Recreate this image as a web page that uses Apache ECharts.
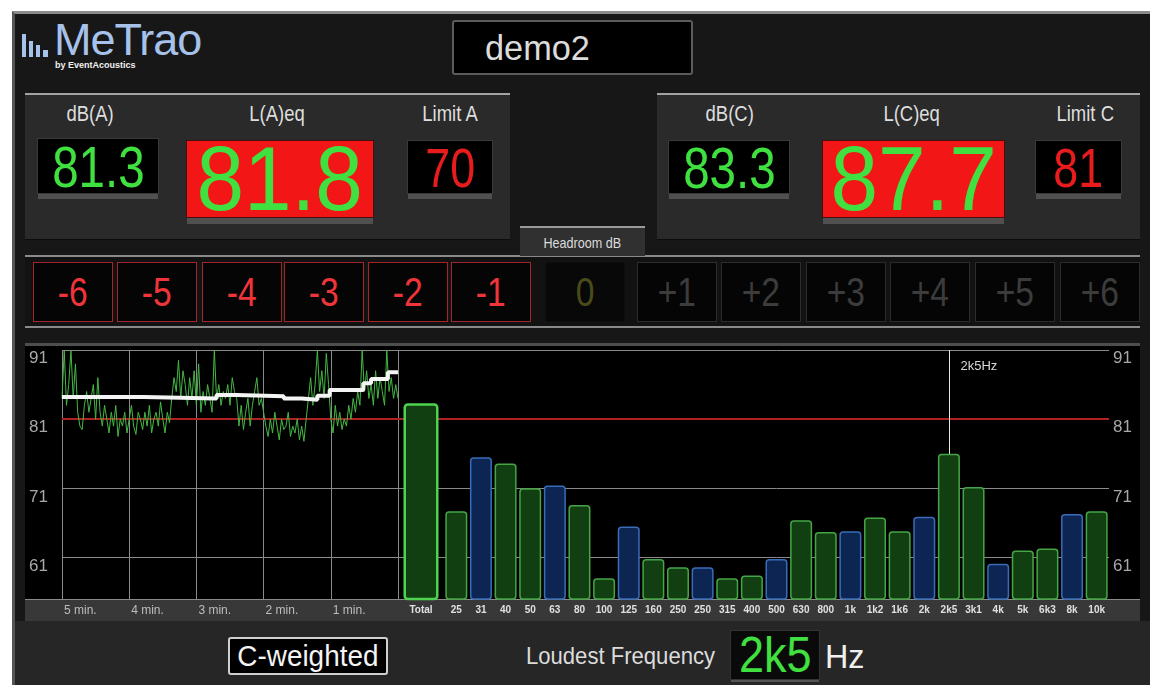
<!DOCTYPE html>
<html>
<head>
<meta charset="utf-8">
<title>MeTrao - demo2</title>
<script src="https://cdn.jsdelivr.net/npm/echarts@6.0.0/dist/echarts.min.js"></script>
<style>
  html, body { margin: 0; padding: 0; background: #fff; }
  body { position: relative; width: 1150px; height: 685px; overflow: hidden;
         font-family: "Liberation Sans", Arial, sans-serif; }
  .a { position: absolute; box-sizing: border-box; }
  .c { display: flex; align-items: center; justify-content: center; }
  .sq { display: inline-block; transform: scaleX(0.84); white-space: nowrap; }
  #frame { left: 12px; top: 11px; width: 1138px; height: 674px; background: #171717;
           border-top: 3px solid #8c8c8c; border-left: 3px solid #555; }
  .panel { background: #2a2a2a; border-top: 2px solid #a3a3a3; border-bottom: 1px solid #0c0c0c; }
  .lbl { top: 101px; width: 120px; height: 26px; font-size: 22px; color: #dedede; }
  .box { background: #000; border: 1px solid #3a3a3a; box-shadow: 0 6px 0 -1px #505050; }
  .red { background: #f21616; border: 1px solid #4a0d0d; box-shadow: 0 7px 0 -1px #505050; }
  .g { color: #3fe03f; }
  .r { color: #e81c1c; }
  .hb { top: 262px; width: 80px; height: 60px; border: 1px solid #a3252a; background: #050505;
        font-size: 40px; color: #f0353a; }
  .hb.off { border-color: #2c2c2c; color: #3c3c3c; }
  .hb.zero { border-color: #0e0e0e; color: #4a4a1c; background: #080808; }
  .bar { background: #a6c2ea; width: 4px; bottom: 0; }
</style>
</head>
<body>
<div id="frame" class="a"></div>

<!-- logo -->
<div class="a" style="left:22px;top:31px;width:30px;height:26px;">
  <div class="a bar" style="left:0;height:23px;"></div>
  <div class="a bar" style="left:7px;height:16px;"></div>
  <div class="a bar" style="left:14px;height:12px;"></div>
  <div class="a bar" style="left:21px;height:7px;width:5px;"></div>
</div>
<div class="a" style="left:54px;top:14px;font-size:45px;color:#a6c2ea;letter-spacing:-1px;">MeTrao</div>
<div class="a" style="left:55px;top:60px;font-size:9px;font-weight:bold;color:#f0f0f0;">by EventAcoustics</div>

<!-- session name -->
<div class="a" style="left:452px;top:20px;width:241px;height:55px;background:#000;border:2px solid #5c5c5c;border-radius:3px;">
  <div class="a" style="left:31px;top:6px;font-size:35px;color:#dcdcdc;"><span class="sq" style="transform:scaleX(0.98);transform-origin:left;">demo2</span></div>
</div>

<!-- A-weighted meters -->
<div class="a panel" style="left:25px;top:93px;width:485px;height:147px;"></div>
<div class="a lbl c" style="left:30px;"><span class="sq">dB(A)</span></div>
<div class="a lbl c" style="left:217px;"><span class="sq">L(A)eq</span></div>
<div class="a lbl c" style="left:390px;"><span class="sq">Limit A</span></div>
<div class="a box c g" style="left:37px;top:138px;width:122px;height:56px;font-size:58px;"><span class="sq" style="transform:scaleX(0.82)">81.3</span></div>
<div class="a red c g" style="left:186px;top:140px;width:188px;height:78px;font-size:90px;"><span class="sq" style="transform:scaleX(0.95)">81.8</span></div>
<div class="a box c r" style="left:407px;top:140px;width:86px;height:54px;font-size:56px;"><span class="sq" style="transform:scaleX(0.8)">70</span></div>

<!-- C-weighted meters -->
<div class="a panel" style="left:657px;top:93px;width:483px;height:147px;"></div>
<div class="a lbl c" style="left:670px;"><span class="sq">dB(C)</span></div>
<div class="a lbl c" style="left:852px;"><span class="sq">L(C)eq</span></div>
<div class="a lbl c" style="left:1025px;"><span class="sq">Limit C</span></div>
<div class="a box c g" style="left:668px;top:140px;width:122px;height:54px;font-size:58px;"><span class="sq" style="transform:scaleX(0.82)">83.3</span></div>
<div class="a red c g" style="left:822px;top:140px;width:183px;height:78px;font-size:90px;"><span class="sq" style="transform:scaleX(0.95)">87.7</span></div>
<div class="a box c r" style="left:1035px;top:140px;width:87px;height:54px;font-size:56px;"><span class="sq" style="transform:scaleX(0.8)">81</span></div>

<!-- headroom -->
<div class="a" style="left:25px;top:255px;width:1115px;height:73px;background:#121212;border-top:2px solid #8a8a8a;border-bottom:2px solid #8a8a8a;"></div>
<div class="a c" style="left:520px;top:226px;width:125px;height:30px;background:#303030;border-top:2px solid #9a9a9a;font-size:15px;color:#dcdcdc;"><span class="sq">Headroom dB</span></div>
<div class="a hb c" style="left:33px;"><span class="sq">-6</span></div>
<div class="a hb c" style="left:117px;"><span class="sq">-5</span></div>
<div class="a hb c" style="left:202px;"><span class="sq">-4</span></div>
<div class="a hb c" style="left:284px;"><span class="sq">-3</span></div>
<div class="a hb c" style="left:368px;"><span class="sq">-2</span></div>
<div class="a hb c" style="left:451px;"><span class="sq">-1</span></div>
<div class="a hb zero c" style="left:545px;"><span class="sq">0</span></div>
<div class="a hb off c" style="left:637px;"><span class="sq">+1</span></div>
<div class="a hb off c" style="left:721px;"><span class="sq">+2</span></div>
<div class="a hb off c" style="left:806px;"><span class="sq">+3</span></div>
<div class="a hb off c" style="left:890px;"><span class="sq">+4</span></div>
<div class="a hb off c" style="left:975px;"><span class="sq">+5</span></div>
<div class="a hb off c" style="left:1060px;"><span class="sq">+6</span></div>

<!-- chart panel -->
<div class="a" style="left:25px;top:343px;width:1115px;height:278px;background:#000;border-top:3px solid #4e4e4e;"></div>
<div class="a" style="left:25px;top:599px;width:1115px;height:22px;background:#383838;border-top:1px solid #8a8a8a;"></div>
<div id="chart" class="a" style="left:25px;top:343px;width:1115px;height:278px;"></div>

<!-- footer -->
<div class="a" style="left:15px;top:621px;width:1135px;height:64px;background:#262626;"></div>
<div class="a c" style="left:228px;top:637px;width:160px;height:38px;background:#000;border:2px solid #cfcfcf;border-radius:3px;font-size:30px;color:#f4f4f4;"><span class="sq" style="transform:scaleX(0.93)">C-weighted</span></div>
<div class="a" style="left:526px;top:642px;font-size:24px;color:#dcdcdc;"><span class="sq" style="transform:scaleX(0.92);transform-origin:left;">Loudest Frequency</span></div>
<div class="a c" style="left:730px;top:630px;width:90px;height:50px;background:#0a0a0a;border:1px solid #333;box-shadow:0 3px 0 -1px #555;font-size:50px;color:#3fe03f;"><span class="sq" style="transform:scaleX(0.9)">2k5</span></div>
<div class="a" style="left:825px;top:637px;font-size:34px;color:#f0f0f0;"><span class="sq" style="transform:scaleX(0.95);transform-origin:left;">Hz</span></div>

<script>
var timeTickValues = [-300, -240, -180, -120, -60];
var timeTickLabels = ['5 min.', '4 min.', '3 min.', '2 min.', '1 min.'];
var levelTicks = [61, 71, 81, 91];
var limitC = 81;

// instantaneous dB(C), one reading every 2 s over the last 5 minutes
var traceStart = -300, traceStep = 2;
var traceLevels = [
  84, 91, 83, 86, 91, 84,
  89, 82, 80, 79.5,
  83, 85, 82, 84, 86, 81, 87, 82,
  80, 83,
  81, 79, 82, 80, 83, 78.5, 81, 80, 82, 79,
  81, 83, 80, 78.8, 82, 81, 79.5, 82, 80, 83,
  79, 81, 82, 80, 83.5, 81, 79, 82, 80.5,
  84, 87, 85, 89.5, 84, 88, 86,
  83, 87, 84, 88, 83, 89,
  82, 85, 83, 86, 84, 82,
  91, 84, 86, 83, 85, 84, 86, 83, 87, 85, 84,
  80, 83, 79.5, 82, 84, 80, 83,
  85, 87, 83, 84, 82,
  80, 78.5, 81, 79, 82, 80, 78, 81, 79.5, 80, 82, 78.5, 80, 79, 81, 78, 80, 77.8, 81,
  84, 87, 83, 86, 91, 85, 88, 84, 90.5, 86,
  81, 79, 83, 80, 82, 79.5, 81, 80, 83, 81,
  84, 82, 85, 83,
  91, 85, 88, 84,
  86, 83, 88, 84, 87, 85, 83,
  91, 85, 87, 84, 86, 84
];

// running L(C)eq
var leqTimes  = [-300, -227, -162, -144, -102, -86, -72, -61, -31, -24, -9, 0];
var leqLevels = [84.2, 84.0, 84.5, 84.3, 84.0, 83.8, 84.4, 85.2, 86.2, 86.8, 87.8, 87.8];

var totalLabel = 'Total';
var totalLevel = 83.3;
var bandLabels = ['25', '31', '40', '50', '63', '80', '100', '125', '160', '250', '250', '315', '400',
                  '500', '630', '800', '1k', '1k2', '1k6', '2k', '2k5', '3k1', '4k', '5k', '6k3', '8k', '10k'];
var bandLevels = [67.7, 75.5, 74.6, 71.0, 71.4, 68.6, 58.0, 65.5, 60.8, 59.6, 59.6, 58.0, 58.4,
                  60.8, 66.4, 64.7, 64.8, 66.8, 64.8, 66.9, 76.0, 71.2, 60.1, 62.0, 62.3, 67.3, 67.7];
var octaveBands = [1, 4, 7, 10, 13, 16, 19, 22, 25];
var loudestBand = '2k5';

var fontN = '"Liberation Sans Narrow", "Liberation Sans", Arial, sans-serif';

var tracePoints = traceLevels.map(function (v, i) { return [traceStart + i * traceStep, v]; });
var leqPoints = leqTimes.map(function (t, i) { return [t, leqLevels[i]]; });

var green = { color: '#123f12', borderColor: '#46a546', borderWidth: 1.5, borderRadius: 3 };
var blue = { color: '#0c2552', borderColor: '#3a6cb8', borderWidth: 1.5, borderRadius: 3 };

function gridMarks(extra) {
    var d = levelTicks.map(function (v) {
        return {
            yAxis: v,
            lineStyle: v === limitC ? { color: '#b02222', width: 2, type: 'solid' }
                                    : { color: '#8a8a8a', width: 1, type: 'solid' }
        };
    });
    return {
        silent: true, symbol: ['none', 'none'], z: 1, animation: false,
        label: { show: false },
        data: d.concat(extra || [])
    };
}

function levelAxis(idx, pos, showLabel, margin) {
    return {
        type: 'value', gridIndex: idx, position: pos, min: 55, max: 91,
        splitLine: { show: false }, axisLine: { show: false }, axisTick: { show: false },
        axisLabel: {
            show: showLabel, customValues: levelTicks, color: '#a8a8a8', fontSize: 17,
            verticalAlign: 'top', margin: margin, fontFamily: fontN
        }
    };
}

function bandAxis(idx, cats) {
    return {
        type: 'category', gridIndex: idx, data: cats,
        axisLine: { lineStyle: { color: '#8a8a8a', width: 1 } }, axisTick: { show: false },
        axisLabel: { interval: 0, color: '#e0e0e0', fontSize: 10, fontWeight: 'bold', margin: 6, fontFamily: fontN }
    };
}

var option = {
    animation: false,
    grid: [
        { left: 37, top: 7, width: 336, height: 249 },
        { left: 373, top: 7, width: 46, height: 249 },
        { left: 419, top: 7, width: 665, height: 249 }
    ],
    xAxis: [
        {
            type: 'value', gridIndex: 0, min: -300, max: 0, interval: 60,
            axisLine: { show: false }, axisTick: { show: false },
            splitLine: { show: true, lineStyle: { color: '#8a8a8a', width: 1 } },
            axisLabel: {
                customValues: timeTickValues, align: 'left', padding: [0, 0, 0, 2],
                color: '#bdbdbd', fontSize: 12, margin: 6, fontFamily: fontN,
                formatter: function (v) { return timeTickLabels[timeTickValues.indexOf(v)]; }
            }
        },
        bandAxis(1, [totalLabel]),
        bandAxis(2, bandLabels)
    ],
    yAxis: [
        levelAxis(0, 'left', true, 14),
        levelAxis(1, 'left', false, 0),
        levelAxis(2, 'right', true, 4)
    ],
    series: [
        {
            type: 'line', xAxisIndex: 0, yAxisIndex: 0, data: tracePoints, symbol: 'none', z: 3,
            lineStyle: { color: '#44b844', width: 1 },
            markLine: gridMarks()
        },
        {
            type: 'line', xAxisIndex: 0, yAxisIndex: 0, data: leqPoints, symbol: 'none', step: 'end', z: 4,
            lineStyle: { color: '#f4f4f4', width: 4 }
        },
        {
            type: 'bar', xAxisIndex: 1, yAxisIndex: 1, barWidth: 35, z: 2,
            data: [{ value: totalLevel, itemStyle: { color: '#123f12', borderColor: '#4fd24f', borderWidth: 2.5, borderRadius: 3 } }],
            markLine: gridMarks()
        },
        {
            type: 'bar', xAxisIndex: 2, yAxisIndex: 2, barWidth: 22, z: 2,
            data: bandLevels.map(function (v, i) {
                return { value: v, itemStyle: octaveBands.indexOf(i) >= 0 ? blue : green };
            }),
            markLine: gridMarks([{
                xAxis: loudestBand,
                lineStyle: { color: '#e6e6e6', width: 1, type: 'solid' },
                label: { show: true, position: 'end', formatter: loudestBand + 'Hz', color: '#d8d8d8',
                         fontSize: 13, fontFamily: fontN, offset: [30, 28] }
            }])
        }
    ]
};
echarts.init(document.getElementById('chart')).setOption(option);
</script>
</body>
</html>
